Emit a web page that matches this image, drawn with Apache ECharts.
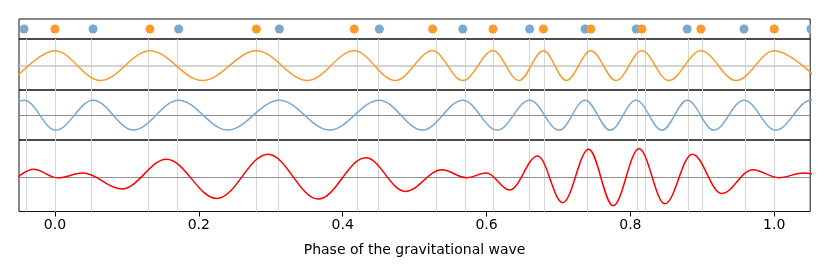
<!DOCTYPE html>
<html><head><meta charset="utf-8">
<script src="https://cdn.jsdelivr.net/npm/echarts@6/dist/echarts.min.js"></script>
<style>html,body{margin:0;padding:0;background:#fff}#c{width:830px;height:272px}</style>
</head><body><div id="c"></div>
<script>
// Phases of the dots (peaks of each wave)
const orangeDots = [0.000, 0.132, 0.280, 0.416, 0.525, 0.609, 0.679, 0.745, 0.816, 0.898, 1.000];
const blueDots = [-0.043, 0.053, 0.172, 0.312, 0.451, 0.567, 0.660, 0.737, 0.808, 0.879, 0.958, 1.051];

// Extrema of each wave [phase, value]
const orangeWave = [[-0.058,-1],[0.000,1],[0.063,-1],[0.132,1],[0.205,-1],[0.280,1],[0.351,-1],[0.416,1],[0.473,-1],[0.525,1],[0.567,-1],[0.609,1],[0.645,-1],[0.679,1],[0.711,-1],[0.745,1],[0.780,-1],[0.816,1],[0.853,-1],[0.898,1],[0.947,-1],[1.000,1],[1.062,-1]];
const blueWave = [[-0.086,-1],[-0.043,1],[0.001,-1],[0.053,1],[0.109,-1],[0.172,1],[0.240,-1],[0.312,1],[0.382,-1],[0.451,1],[0.511,-1],[0.567,1],[0.615,-1],[0.660,1],[0.701,-1],[0.737,1],[0.772,-1],[0.808,1],[0.844,-1],[0.879,1],[0.916,-1],[0.958,1],[1.002,-1],[1.051,1],[1.100,-1]];
const sumWave = [[-0.057,-0.2],[-0.030,0.56],[0.004,-0.04],[0.039,0.29],[0.093,-0.82],[0.155,1.26],[0.225,-1.49],[0.296,1.62],[0.366,-1.53],[0.432,1.36],[0.487,-0.99],[0.538,0.52],[0.572,-0.03],[0.600,0.29],[0.632,-0.90],[0.671,1.49],[0.706,-1.78],[0.742,1.96],[0.776,-2.00],[0.812,1.99],[0.848,-1.86],[0.886,1.62],[0.927,-1.14],[0.970,0.53],[1.006,-0.03],[1.041,0.29],[1.078,-0.10]];

const tickValues = [0, 0.2, 0.4, 0.6, 0.8, 1.0];
const tickLabels = ['0.0', '0.2', '0.4', '0.6', '0.8', '1.0'];
const xName = 'Phase of the gravitational wave';

const X_MIN = -0.05, X_MAX = 1.05;
const ORANGE = '#fd9a2c', BLUE = '#78a9d2', RED = '#ff0000';
const FONT = 'DejaVu Sans';

const chart = echarts.init(document.getElementById('c'), null, {renderer: 'canvas'});

const gridBase = {left: 19, right: 19.8, show: true, borderColor: '#111', borderWidth: 1, backgroundColor: 'transparent', containLabel: false};
const grids = [
  Object.assign({}, gridBase, {top: 19, height: 20}),
  Object.assign({}, gridBase, {top: 39, height: 51}),
  Object.assign({}, gridBase, {top: 90, height: 50}),
  Object.assign({}, gridBase, {top: 140, height: 71.5})
];
const yRanges = [[-1, 1], [-1.64, 1.80], [-1.66, 1.68], [-2.40, 2.61]];

const xAxes = grids.map((g, i) => {
  const base = {type: 'value', gridIndex: i, min: X_MIN, max: X_MAX, position: 'bottom', splitLine: {show: false}, axisLine: {show: false, onZero: false}};
  if (i < 3) return Object.assign(base, {show: false});
  return Object.assign(base, {
    axisTick: {show: true, customValues: tickValues, length: 5, inside: false, lineStyle: {color: '#000', width: 1}},
    axisLabel: {show: true, customValues: tickValues, margin: 7, color: '#000', fontFamily: FONT, fontSize: 14,
      formatter: v => {
        let best = 0;
        tickValues.forEach((t, k) => { if (Math.abs(t - v) < Math.abs(tickValues[best] - v)) best = k; });
        return tickLabels[best];
      }},
    name: xName, nameLocation: 'middle', nameGap: 32,
    nameTextStyle: {color: '#000', fontFamily: FONT, fontSize: 14}
  });
});
const yAxes = yRanges.map((r, i) => ({type: 'value', gridIndex: i, min: r[0], max: r[1], show: false, splitLine: {show: false}}));

const vLines = orangeDots.concat(blueDots).filter(v => v >= X_MIN && v <= X_MAX).map(v => ({xAxis: v}));

function helper(idx, zeroStyle) {
  return {
    type: 'line', xAxisIndex: idx, yAxisIndex: idx, data: [], z: 1, silent: true,
    markLine: {
      z: 1, silent: true, symbol: ['none', 'none'], animation: false, label: {show: false},
      emphasis: {disabled: true},
      lineStyle: {color: '#d6d6d6', width: 1, type: 'solid'},
      data: vLines.concat([{yAxis: 0, lineStyle: zeroStyle}])
    }
  };
}
function wave(idx, data, color) {
  return {
    type: 'line', xAxisIndex: idx, yAxisIndex: idx, data: data, z: 10,
    smooth: 0.36, smoothMonotone: 'x', showSymbol: false, symbol: 'none', silent: true,
    lineStyle: {color: color, width: 1.5}, emphasis: {disabled: true}, clip: true
  };
}

const option = {
  animation: false,
  backgroundColor: '#fff',
  grid: grids,
  xAxis: xAxes,
  yAxis: yAxes,
  series: [
    {type: 'scatter', xAxisIndex: 0, yAxisIndex: 0, data: blueDots.map(v => [v, 0]), symbolSize: 9,
      itemStyle: {color: BLUE, opacity: 1}, clip: false, z: 3, silent: true},
    {type: 'scatter', xAxisIndex: 0, yAxisIndex: 0, data: orangeDots.map(v => [v, 0]), symbolSize: 9,
      itemStyle: {color: ORANGE, opacity: 1}, clip: false, z: 4, silent: true},
    helper(1, {color: '#c6c6c6', width: 1.6, type: 'solid'}),
    wave(1, orangeWave, ORANGE),
    helper(2, {color: '#8e8e8e', width: 1, type: 'solid'}),
    wave(2, blueWave, BLUE),
    helper(3, {color: '#8e8e8e', width: 1, type: 'solid'}),
    wave(3, sumWave, RED)
  ],
  graphic: [
    {type: 'rect', shape: {x: 811, y: 15, width: 19, height: 26}, style: {fill: '#fff'}, z: 100, silent: true}
  ]
};
chart.setOption(option);
</script>
</body></html>
